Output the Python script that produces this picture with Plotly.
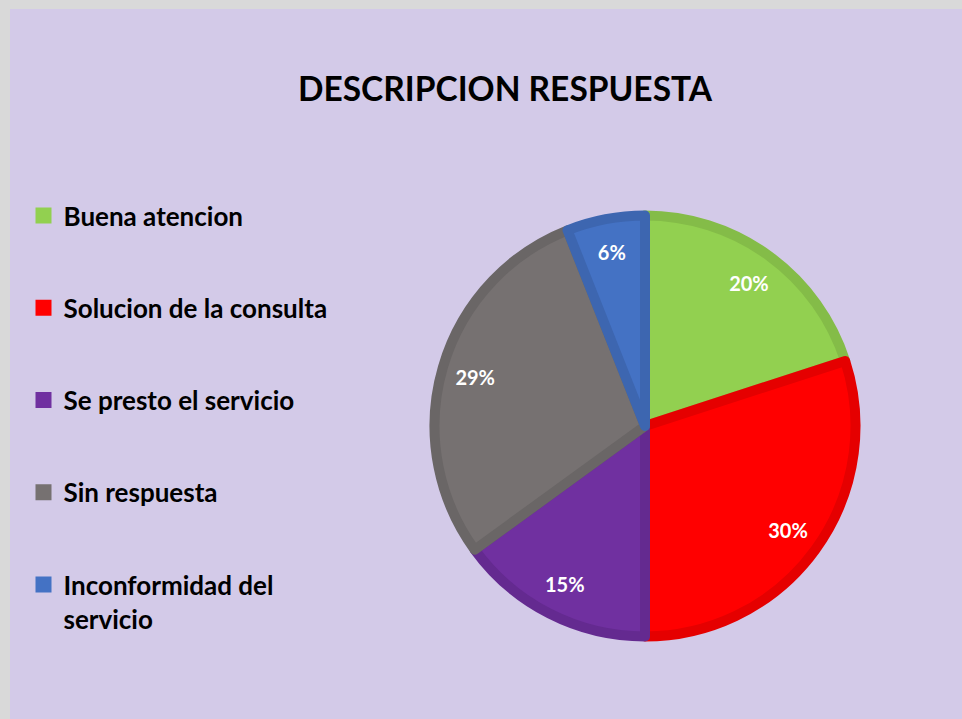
import plotly.graph_objects as go

categories = ["Buena atencion", "Solucion de la consulta", "Se presto el servicio",
              "Sin respuesta", "Inconformidad del servicio"]
legend_labels = ["Buena atencion", "Solucion de la consulta", "Se presto el servicio",
                 "Sin respuesta", "Inconformidad del<br>servicio"]
values = [20, 30, 15, 29, 6]
fill_colors = ["#92D050", "#FF0000", "#7030A0", "#767171", "#4472C4"]
edge_colors = ["#84BC48", "#E50000", "#642A90", "#6A6666", "#3D66B0"]

W, H = 962, 719
cx, cy, r = 645, 426, 210.5
pie_domain = dict(x=[(cx - r) / W, (cx + r) / W],
                  y=[(H - cy - r) / H, (H - cy + r) / H])

fig = go.Figure()

# coloured slices
fig.add_trace(go.Pie(
    labels=categories,
    values=values,
    sort=False,
    direction="clockwise",
    rotation=0,
    marker=dict(colors=fill_colors, line=dict(color=edge_colors, width=10)),
    textinfo="none",
    showlegend=False,
    hoverinfo="label+percent",
    domain=pie_domain,
))

# percentage labels placed near the outer rim (transparent ring on top)
fig.add_trace(go.Pie(
    labels=categories,
    values=values,
    sort=False,
    direction="clockwise",
    rotation=0,
    hole=0.68,
    marker=dict(colors=["rgba(0,0,0,0)"] * len(values), line=dict(width=0)),
    texttemplate="%{percent:.0%}",
    textposition="inside",
    insidetextorientation="horizontal",
    textfont=dict(family="Lato", size=20, color="white", weight="bold"),
    showlegend=False,
    hoverinfo="skip",
    domain=pie_domain,
))

for name, col in zip(legend_labels, fill_colors):
    fig.add_trace(go.Scatter(
        x=[None], y=[None], mode="markers", name=name,
        marker=dict(symbol="square", size=17, color=col),
        legendgroup=name, showlegend=True,
    ))

fig.update_layout(
    width=W, height=H,
    margin=dict(l=0, r=0, t=0, b=0),
    paper_bgcolor="#D9D9D9",
    plot_bgcolor="rgba(0,0,0,0)",
    xaxis=dict(visible=False),
    yaxis=dict(visible=False),
    font=dict(family="Lato", color="black"),
    title=dict(text="<b>DESCRIPCION RESPUESTA</b>", x=505 / W, xanchor="center",
               y=1 - 89 / H, yanchor="middle",
               font=dict(family="Lato", size=33.5, color="black")),
    legend=dict(x=23.5 / W, xanchor="left", y=1 - 192 / H, yanchor="top",
                font=dict(family="Lato", size=26, color="black", weight="bold"),
                bgcolor="rgba(0,0,0,0)", tracegroupgap=55.5, valign="top",
                itemsizing="trace"),
    shapes=[dict(type="rect", xref="paper", yref="paper",
                 x0=10 / W, x1=1.0, y0=0.0, y1=1 - 9 / H,
                 fillcolor="#D3CAE8", line=dict(width=0), layer="below")],
)

fig.write_html("out.html", config={"displayModeBar": False},
               post_script="document.body.style.margin='0';document.body.style.padding='0';")
